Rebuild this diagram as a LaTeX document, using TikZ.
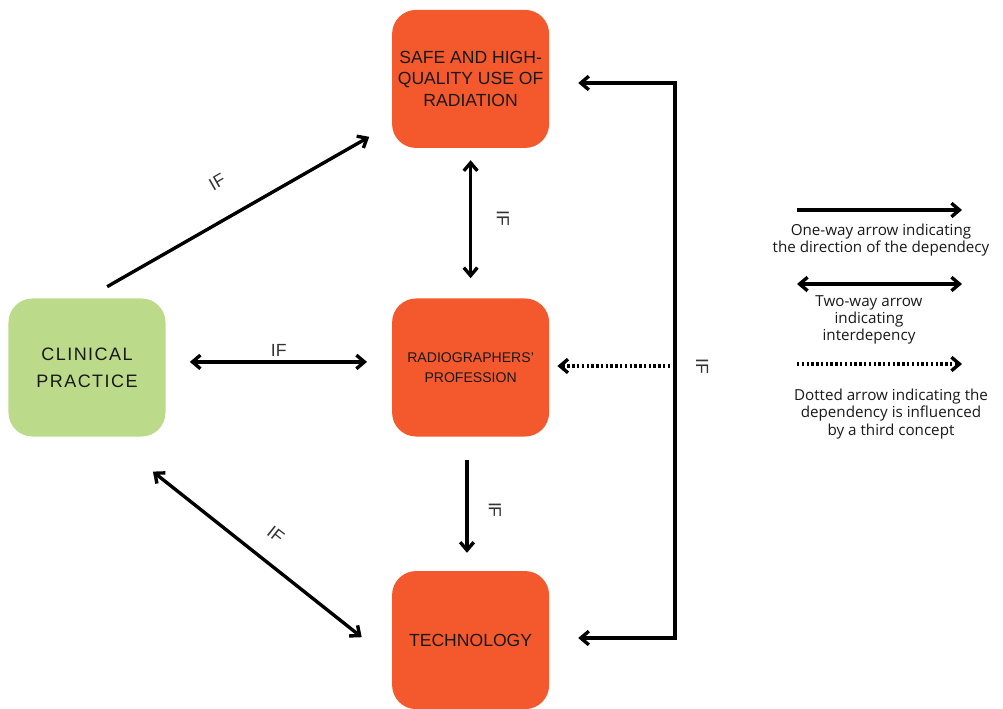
\documentclass[tikz,border=0pt]{standalone}
\usepackage{fontspec}
\setmainfont{Liberation Sans}
\newfontfamily\keyfont{Open Sans}
\newfontfamily\widefont[LetterSpace=8]{Liberation Sans}
\usetikzlibrary{positioning, arrows.meta, calc}

\definecolor{boxorange}{RGB}{244,89,46}
\definecolor{boxgreen}{RGB}{187,218,138}

\tikzset{
  concept/.style={rectangle, rounded corners=0.6cm, minimum width=3.925cm,
    minimum height=3.45cm, align=center, text=black!90, inner sep=2pt},
  orangebox/.style={concept, fill=boxorange},
  greenbox/.style={concept, fill=boxgreen},
  link/.style={line width=2.4pt},
  dotlink/.style={link, dash pattern=on 1.7pt off 1.7pt},
  iflabel/.style={font=\fontsize{12.5}{14}\selectfont, inner sep=0pt, text=black!80},
  keytext/.style={font=\keyfont\fontsize{10.8}{12.3}\selectfont, align=center, text=black!90}
}

\begin{document}
\begin{tikzpicture}[x=0.025cm, y=-0.025cm, >={Straight Barb[length=2mm,width=3.4mm]},
    node distance=7cm, on grid]
    \useasboundingbox (0,0) rectangle (1003,708);

    % concepts
    \node[greenbox, font=\widefont\fontsize{12.8}{19}\selectfont] (clin) at (87,367.5) {CLINICAL\\PRACTICE};
    \node[orangebox, font=\fontsize{10}{14}\selectfont] (prof) [right=9.5875cm of clin] {RADIOGRAPHERS'\\PROFESSION};
    \node[orangebox, font=\fontsize{12.5}{15.5}\selectfont] (safe) [above=7.2125cm of prof] {SAFE AND HIGH-\\QUALITY USE OF\\RADIATION};
    \node[orangebox, font=\fontsize{12.5}{15.5}\selectfont] (tech) [below=6.8125cm of prof] {TECHNOLOGY};

    % dependencies
    \draw[link, ->, shorten <=0.58cm, shorten >=0.65cm] (clin.north)
        -- node[iflabel, sloped, above=0.71cm, pos=0.486] {IF} (safe);
    \draw[link, <->, shorten <=0.3cm, shorten >=0.5cm] (safe)
        -- node[iflabel, pos=0.47, xshift=0.81cm, rotate=-90] {IF} (prof);
    \draw[link, ->, shorten <=0.58cm, shorten >=0.45cm] ([xshift=-0.09cm]prof.south)
        -- node[iflabel, pos=0.545, xshift=0.7cm, rotate=-90] {IF} ([xshift=-0.09cm]tech.north);
    \draw[link, <->, shorten <=0.6cm, shorten >=0.62cm] ([yshift=0.14cm]clin.east)
        -- node[iflabel, above=0.09cm] {IF} ([yshift=0.14cm]prof.west);
    \draw[link, <->, shorten <=1.4cm, shorten >=0.96cm] ($(clin.south)+(22,0)$)
        -- node[iflabel, sloped, above=0.49cm, pos=0.53] {IF} ($(tech.west)+(0,21)$);

    % third concept
    \coordinate (jtop) at (675,83);
    \coordinate (jmid) at (675,366);
    \coordinate (jbot) at (675,638);
    \draw[link, <->, shorten <=0.72cm, shorten >=0.72cm] (safe.east |- jtop) -- (jtop)
        -- node[iflabel, pos=0.51, xshift=0.68cm, rotate=-90] {IF} (jbot) -- (tech.east |- jbot);
    \draw[dotlink, ->, shorten >=0.2cm] (jmid) -- (prof.east |- jmid);

    % key
    \coordinate (k1a) at (797,210);
    \coordinate (k1b) at (962,210);
    \coordinate (k2a) at (797,284);
    \coordinate (k2b) at (962,284);
    \coordinate (k3a) at (797,364);
    \coordinate (k3b) at (962,364);
    \draw[link, ->] (k1a) -- (k1b);
    \draw[link, <->] (k2a) -- (k2b);
    \draw[dotlink, ->] (k3a) -- (k3b);
    \node[keytext] (k1) at (881,240) {One-way arrow indicating\\the direction of the dependecy};
    \node[keytext] (k2) at (869,320) {Two-way arrow\\indicating\\interdepency};
    \node[keytext] (k3) at (891,414) {Dotted arrow indicating the\\dependency is influenced\\by a third concept};
\end{tikzpicture}
\end{document}
